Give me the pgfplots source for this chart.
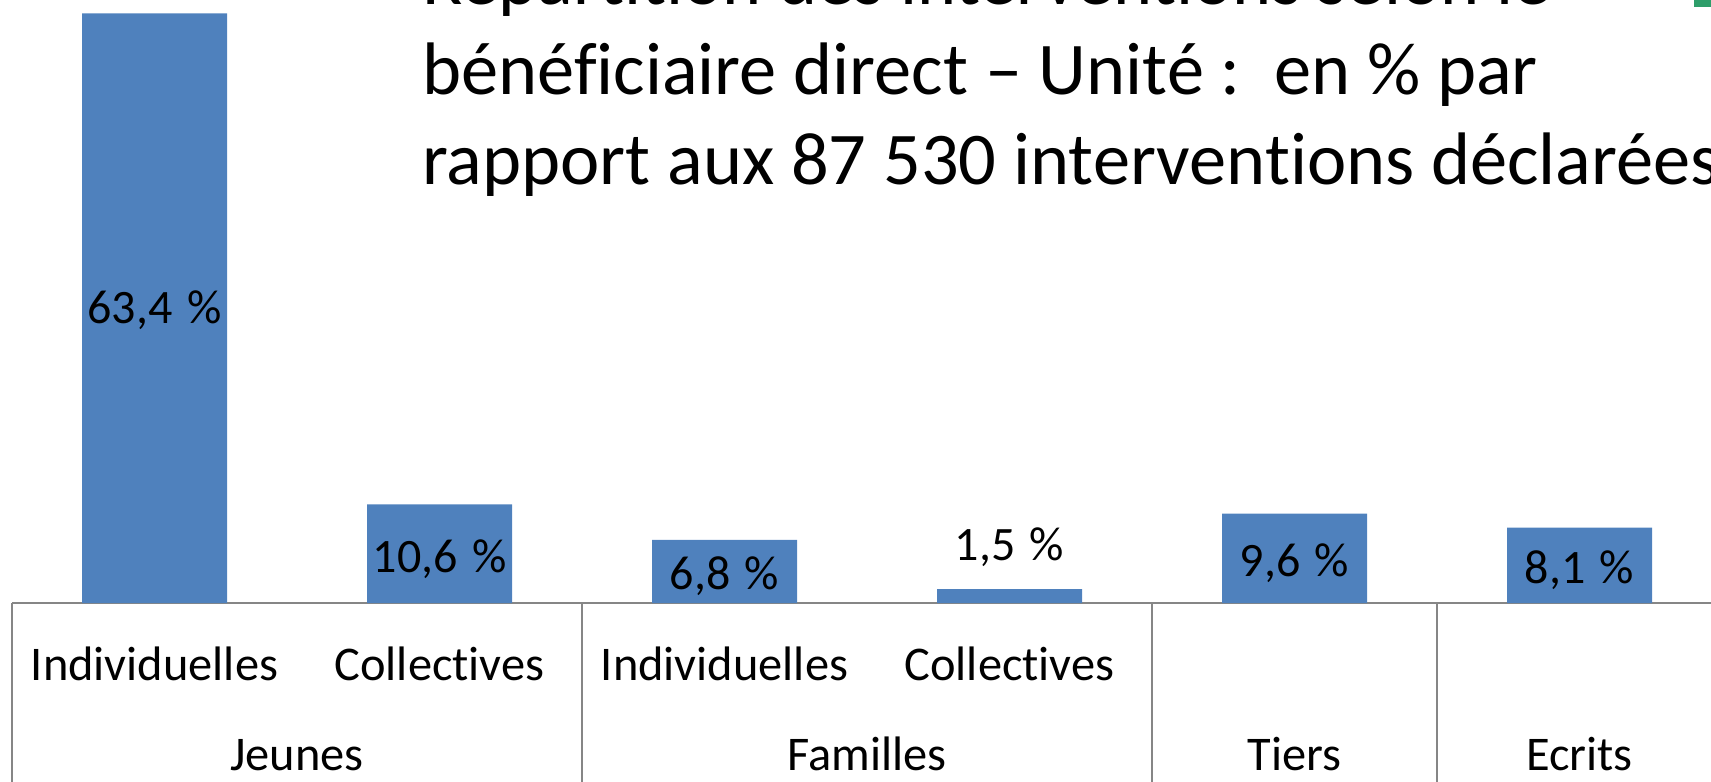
\documentclass[border=0pt]{standalone}
\usepackage{pgfplots}
\pgfplotsset{compat=1.18}
\usepackage{pgfplotstable}
\usepackage{fontspec}
\setmainfont{Carlito}[Ligatures={NoCommon,NoContextual}]
\definecolor{barblue}{RGB}{79,129,189}
\definecolor{axisgray}{RGB}{134,134,134}
\definecolor{legendgreen}{RGB}{46,158,106}

\pgfplotstableread{
x y ly
0 63.4 30.1
1 10.6 3.33
2 6.8 1.5
3 1.5 4.62
4 9.6 2.8
5 8.1 2.15
}\data

\begin{document}
\begin{tikzpicture}
\useasboundingbox (0,0) rectangle (855.5pt,390.5pt);
\begin{scope}[overlay]
\clip (0,0) rectangle (855.5pt,390.5pt);
\begin{axis}[
  scale only axis, width=855pt, height=301.5pt,
  at={(6pt,89pt)}, anchor=south west,
  xmin=-0.5, xmax=5.5, ymin=0, ymax=64.84,
  axis x line*=bottom, axis y line=none,
  x axis line style={-, draw=axisgray, line width=0.75pt},
  xtick={0,1,2,3,4,5},
  xticklabels={Individuelles,Collectives,Individuelles,Collectives,{},{}},
  major tick length=0pt,
  xticklabel style={anchor=base, yshift=-38.5pt, font=\fontsize{24.2}{29}\selectfont, inner sep=0pt},
  ytick=\empty,
  clip=false,
  /pgf/number format/assume math mode=true,
]
\addplot[ybar, bar width=72.5pt, fill=barblue, draw=none] table[x=x,y=y]{\data};
\addplot[draw=none, mark=none,
  point meta=\thisrow{y},
  nodes near coords={\pgfmathprintnumber[fixed, fixed zerofill, precision=1, use comma]{\pgfplotspointmeta}\hspace{0.3em}\%},
  nodes near coords style={anchor=base, inner sep=0pt, text=black, font=\fontsize{24}{29}\selectfont},
] table[x=x,y=ly]{\data};
\draw[axisgray, line width=0.75pt] (axis cs:-0.5,0) -- ++(0pt,-100pt);
\draw[axisgray, line width=0.75pt] (axis cs:1.5,0) -- ++(0pt,-100pt);
\draw[axisgray, line width=0.75pt] (axis cs:3.5,0) -- ++(0pt,-100pt);
\draw[axisgray, line width=0.75pt] (axis cs:4.5,0) -- ++(0pt,-100pt);
\draw[axisgray, line width=0.75pt] (axis cs:5.5,0) -- ++(0pt,-100pt);
\node[anchor=base, yshift=-83.5pt, inner sep=0pt, font=\fontsize{24.2}{29}\selectfont] at (axis cs:0.5,0) {Jeunes};
\node[anchor=base, yshift=-83.5pt, inner sep=0pt, font=\fontsize{24.2}{29}\selectfont] at (axis cs:2.5,0) {Familles};
\node[anchor=base, yshift=-83.5pt, inner sep=0pt, font=\fontsize{24.2}{29}\selectfont] at (axis cs:4,0) {Tiers};
\node[anchor=base, yshift=-83.5pt, inner sep=0pt, font=\fontsize{24.2}{29}\selectfont] at (axis cs:5,0) {Ecrits};
\end{axis}
\node[anchor=base west, inner sep=0pt, font=\fontsize{37.2}{45}\selectfont] at (211pt,388pt) {Répartition des interventions selon le};
\node[anchor=base west, inner sep=0pt, font=\fontsize{37.2}{45}\selectfont] at (211pt,343pt) {bénéficiaire direct – Unité :\hspace{0.45em}en \% par};
\node[anchor=base west, inner sep=0pt, font=\fontsize{37.2}{45}\selectfont] at (211pt,298pt) {rapport aux 87 530 interventions déclarées};
\fill[legendgreen] (847pt,387pt) rectangle (856pt,391pt);
\end{scope}
\end{tikzpicture}
\end{document}
